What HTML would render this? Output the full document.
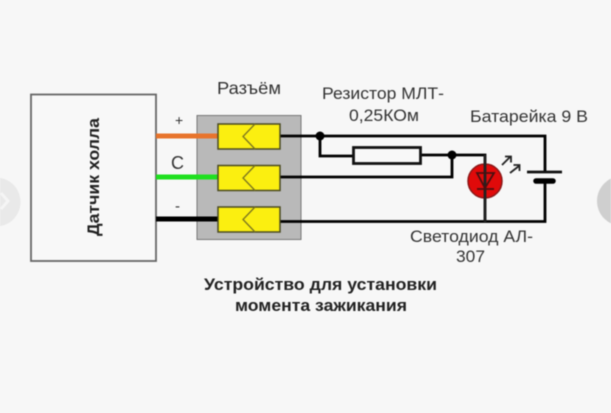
<!DOCTYPE html>
<html><head><meta charset="utf-8">
<style>
html,body{margin:0;padding:0;background:#f7f7f7;width:611px;height:413px;overflow:hidden}
svg{display:block;filter:blur(.45px)}
text{font-family:"Liberation Sans","DejaVu Sans",sans-serif;fill:#333}
</style></head><body>
<svg width="611" height="413" viewBox="0 0 611 413">
<rect x="0" y="0" width="611" height="413" fill="#f7f7f7"/>
<circle cx="-4" cy="202" r="24.500" fill="#e9e9e9"/>
<path d="M1 193L8 201L1 209" fill="none" stroke="#f5f5f5" stroke-width="3"/>
<circle cx="622" cy="201" r="25" fill="#cfcfcf"/>
<rect x="31" y="94.500" width="125" height="166.500" fill="#f8f8f8" stroke="#666" stroke-width="1.800"/>
<rect x="197" y="115.500" width="104" height="124" fill="#b9b9b9" stroke="#777" stroke-width="1"/>
<g fill="none" stroke="#000" stroke-width="2.800">
<path d="M280 136H545V172"/>
<path d="M320 136V156H353"/>
<path d="M420 155H485V222"/>
<path d="M280 177H452V155"/>
<path d="M280 221.500H545V181"/>
</g>
<path d="M156 136H218" stroke="#e8742c" stroke-width="5" fill="none"/>
<path d="M156 177H218" stroke="#1fe01f" stroke-width="5" fill="none"/>
<path d="M156 219H218" stroke="#000" stroke-width="5" fill="none"/>
<g fill="#fbef10" stroke="#4a4a20" stroke-width="1.500">
<rect x="218" y="124" width="62" height="25"/>
<rect x="218" y="165.500" width="62" height="25"/>
<rect x="218" y="207" width="62" height="25"/>
</g>
<g fill="none" stroke="#7a7420" stroke-width="1.300">
<path d="M255 124L243 136.500L255 149"/>
<path d="M255 165.500L243 178L255 190.500"/>
<path d="M255 207L243 219.500L255 232"/>
</g>
<circle cx="320" cy="136" r="4.500" fill="#000"/>
<circle cx="452" cy="155" r="4.500" fill="#000"/>
<rect x="353.500" y="147.500" width="67" height="16" fill="#f8f8f8" stroke="#111" stroke-width="2.800"/>
<circle cx="485" cy="181" r="17" fill="#e00a0a" stroke="#8a1a1a" stroke-width="1.500"/>
<path d="M485 155V222" stroke="#222" stroke-width="2.800" fill="none"/>
<path d="M477 173H494L485 188ZM477 189H494" fill="none" stroke="#4a1010" stroke-width="1.800"/>
<path d="M502 165L510 157M505 156.500H511V162.500M510 173L519 166M513.500 165H519.500V171" fill="none" stroke="#222" stroke-width="1.800"/>
<path d="M527 172H562" stroke="#111" stroke-width="2.800"/>
<path d="M536 181H553" stroke="#000" stroke-width="5.500" stroke-linecap="round"/>
<text x="217" y="94" font-size="17.500" textLength="64" lengthAdjust="spacingAndGlyphs">Разъём</text>
<text x="322" y="99" font-size="17" textLength="122" lengthAdjust="spacingAndGlyphs">Резистор МЛТ-</text>
<text x="349" y="121" font-size="17" textLength="70" lengthAdjust="spacingAndGlyphs">0,25КОм</text>
<text x="470" y="122" font-size="17" textLength="118" lengthAdjust="spacingAndGlyphs">Батарейка 9 В</text>
<text x="410" y="242" font-size="17" textLength="123" lengthAdjust="spacingAndGlyphs">Светодиод АЛ-</text>
<text x="456" y="262" font-size="17" textLength="29" lengthAdjust="spacingAndGlyphs">307</text>
<text x="175" y="125" font-size="14">+</text>
<text x="171" y="169" font-size="18">С</text>
<text x="175" y="211" font-size="15">-</text>
<text x="204" y="290" font-size="16.500" font-weight="bold" style="fill:#222" textLength="233" lengthAdjust="spacingAndGlyphs">Устройство для установки</text>
<text x="235" y="311" font-size="16.500" font-weight="bold" style="fill:#222" textLength="172" lengthAdjust="spacingAndGlyphs">момента зажикания</text>
<text transform="translate(99,236) rotate(-90)" x="0" y="0" font-size="16.500" font-weight="bold" style="fill:#222" textLength="118" lengthAdjust="spacingAndGlyphs">Датчик холла</text>
</svg>
</body></html>
